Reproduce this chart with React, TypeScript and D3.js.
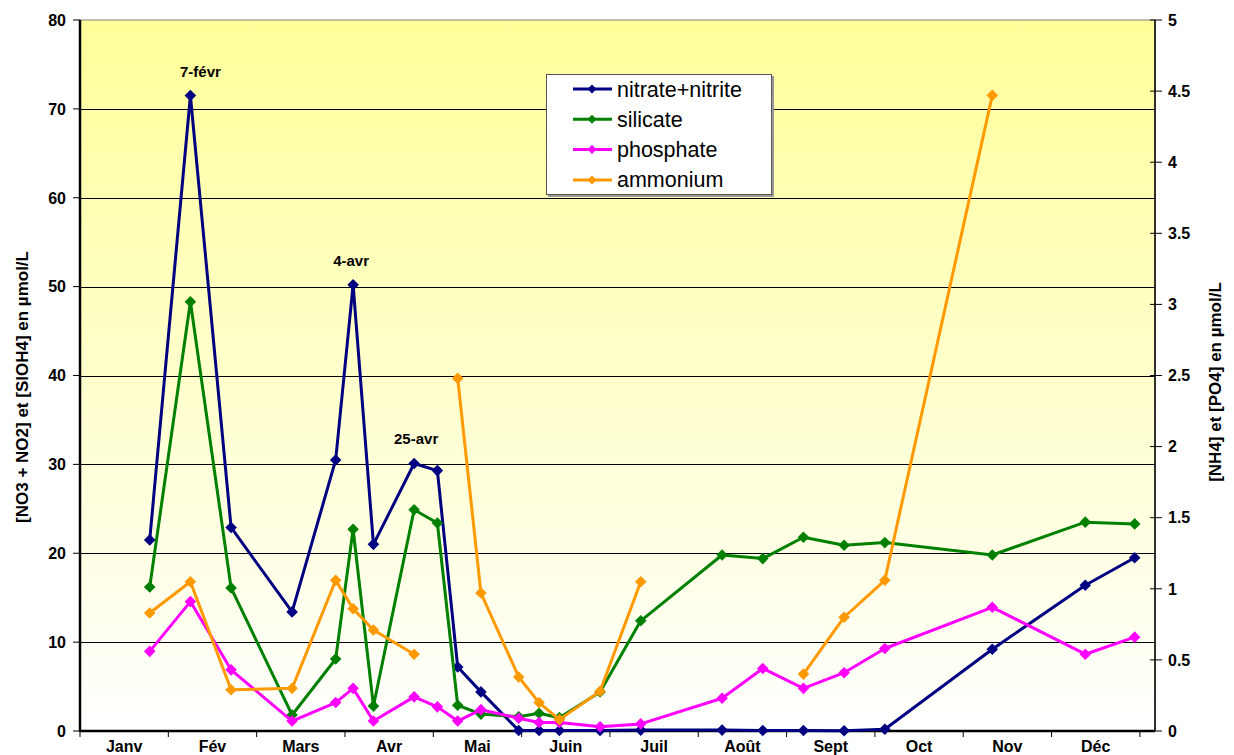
import React, { useEffect, useRef } from "react";
import * as d3 from "d3";

// sampling dates (one station, one year)
const sampleDates = [
  "2007-01-24", "2007-02-07", "2007-02-21", "2007-03-14", "2007-03-29",
  "2007-04-04", "2007-04-11", "2007-04-25", "2007-05-03", "2007-05-10",
  "2007-05-18", "2007-05-31", "2007-06-07", "2007-06-14", "2007-06-28",
  "2007-07-12", "2007-08-09", "2007-08-23", "2007-09-06", "2007-09-20",
  "2007-10-04", "2007-11-10", "2007-12-12", "2007-12-29",
];

// left axis (µmol/L)
const nitrate = [
  21.5, 71.5, 22.9, 13.4, 30.5, 50.2, 21.0, 30.1, 29.3, 7.2, 4.4, 0.05,
  0.05, 0.05, 0.05, 0.1, 0.1, 0.05, 0.05, 0.02, 0.2, 9.2, 16.4, 19.5,
];
const silicate = [
  16.2, 48.3, 16.1, 1.8, 8.1, 22.7, 2.8, 24.9, 23.4, 2.9, 1.9, 1.6, 2.0,
  1.5, 4.4, 12.4, 19.8, 19.4, 21.8, 20.9, 21.2, 19.8, 23.5, 23.3,
];
// right axis (µmol/L)
const phosphate = [
  0.56, 0.91, 0.43, 0.07, 0.2, 0.3, 0.07, 0.24, 0.17, 0.07, 0.15, 0.09,
  0.06, 0.06, 0.03, 0.05, 0.23, 0.44, 0.3, 0.41, 0.58, 0.87, 0.54, 0.66,
];
const ammonium: (number | null)[] = [
  0.83, 1.05, 0.29, 0.3, 1.06, 0.86, 0.71, 0.54, null, 2.48, 0.97, 0.38,
  0.2, 0.08, 0.28, 1.05, null, null, 0.4, 0.8, 1.06, 4.47, null, null,
];

const monthLabels = [
  "Janv", "Fév", "Mars", "Avr", "Mai", "Juin",
  "Juil", "Août", "Sept", "Oct", "Nov", "Déc",
];

const peakLabels = [
  { date: "2007-02-07", text: "7-févr" },
  { date: "2007-04-04", text: "4-avr" },
  { date: "2007-04-25", text: "25-avr" },
];

const seriesNames = ["nitrate+nitrite", "silicate", "phosphate", "ammonium"];
const seriesColors = ["#000080", "#008000", "#FF00FF", "#FF9900"];

const App: React.FC = () => {
  const svgRef = useRef<SVGSVGElement | null>(null);

  useEffect(() => {
    const width = 1234;
    const height = 755;
    const left = 80;
    const right = 1155;
    const top = 20;
    const bottom = 731;
    const font = "'Liberation Sans', Arial, sans-serif";

    const svg = d3.select(svgRef.current);
    svg.selectAll("*").remove();
    svg.attr("width", width).attr("height", height);

    const parse = d3.timeParse("%Y-%m-%d");
    const dayOfYear = (s: string) => {
      const d = parse(s) as Date;
      return d3.timeDay.count(d3.timeYear(d), d) + 1;
    };
    const monthDays = 30.4;

    const x = d3.scaleLinear().domain([0, 370]).range([left, right]);
    const yL = d3.scaleLinear().domain([0, 80]).range([bottom, top]);
    const yR = d3.scaleLinear().domain([0, 5]).range([bottom, top]);

    // background gradient
    const defs = svg.append("defs");
    const grad = defs
      .append("linearGradient")
      .attr("id", "bg")
      .attr("x1", 0)
      .attr("y1", 0)
      .attr("x2", 0)
      .attr("y2", 1);
    grad.append("stop").attr("offset", "0%").attr("stop-color", "#FFFF99");
    grad.append("stop").attr("offset", "100%").attr("stop-color", "#FFFFFF");

    svg
      .append("rect")
      .attr("width", width)
      .attr("height", height)
      .attr("fill", "#fff");

    svg
      .append("rect")
      .attr("x", left)
      .attr("y", top)
      .attr("width", right - left)
      .attr("height", bottom - top)
      .attr("fill", "url(#bg)")
      .attr("stroke", "#808080")
      .attr("stroke-width", 1);

    // gridlines
    svg
      .append("g")
      .selectAll("line")
      .data(yL.ticks(8).filter((t) => t > 0 && t < 80))
      .join("line")
      .attr("x1", left)
      .attr("x2", right)
      .attr("y1", (d) => Math.round(yL(d)) + 0.5)
      .attr("y2", (d) => Math.round(yL(d)) + 0.5)
      .attr("stroke", "#000")
      .attr("stroke-width", 1);

    // left axis
    const gl = svg.append("g");
    gl.append("line")
      .attr("x1", left)
      .attr("x2", left)
      .attr("y1", top)
      .attr("y2", bottom + 1)
      .attr("stroke", "#000")
      .attr("stroke-width", 2.5);
    gl.selectAll("line.t")
      .data(yL.ticks(8))
      .join("line")
      .attr("class", "t")
      .attr("x1", left - 7)
      .attr("x2", left)
      .attr("y1", (d) => yL(d))
      .attr("y2", (d) => yL(d))
      .attr("stroke", "#000")
      .attr("stroke-width", 1);
    gl.selectAll("text")
      .data(yL.ticks(8))
      .join("text")
      .attr("x", 66)
      .attr("y", (d) => yL(d))
      .attr("dy", "0.36em")
      .attr("text-anchor", "end")
      .attr("font-family", font)
      .attr("font-weight", "bold")
      .attr("font-size", 16)
      .text((d) => d);

    // right axis
    const gr = svg.append("g");
    gr.append("line")
      .attr("x1", right)
      .attr("x2", right)
      .attr("y1", top)
      .attr("y2", bottom)
      .attr("stroke", "#000")
      .attr("stroke-width", 1.5);
    gr.selectAll("line.t")
      .data(yR.ticks(10))
      .join("line")
      .attr("class", "t")
      .attr("x1", right - 5)
      .attr("x2", right + 7)
      .attr("y1", (d) => yR(d))
      .attr("y2", (d) => yR(d))
      .attr("stroke", "#000")
      .attr("stroke-width", 1);
    gr.selectAll("text")
      .data(yR.ticks(10))
      .join("text")
      .attr("x", 1168)
      .attr("y", (d) => yR(d))
      .attr("dy", "0.36em")
      .attr("font-family", font)
      .attr("font-weight", "bold")
      .attr("font-size", 16)
      .text((d) => d);

    // bottom axis
    const gb = svg.append("g");
    gb.append("line")
      .attr("x1", left)
      .attr("x2", right)
      .attr("y1", bottom)
      .attr("y2", bottom)
      .attr("stroke", "#000")
      .attr("stroke-width", 2.5);
    gb.selectAll("line.t")
      .data(d3.range(13))
      .join("line")
      .attr("class", "t")
      .attr("x1", (i) => x(i * monthDays))
      .attr("x2", (i) => x(i * monthDays))
      .attr("y1", bottom)
      .attr("y2", bottom + 6)
      .attr("stroke", "#000")
      .attr("stroke-width", 1);
    gb.selectAll("text")
      .data(monthLabels)
      .join("text")
      .attr("x", (_, i) => x((i + 0.5) * monthDays))
      .attr("y", 752)
      .attr("text-anchor", "middle")
      .attr("font-family", font)
      .attr("font-weight", "bold")
      .attr("font-size", 16)
      .text((d) => d);

    // axis titles
    svg
      .append("text")
      .attr("transform", "translate(22,387) rotate(-90)")
      .attr("text-anchor", "middle")
      .attr("dy", "0.35em")
      .attr("font-family", font)
      .attr("font-weight", "bold")
      .attr("font-size", 17)
      .text("[NO3 + NO2] et [SIOH4] en µmol/L");
    svg
      .append("text")
      .attr("transform", "translate(1215,382) rotate(-90)")
      .attr("text-anchor", "middle")
      .attr("dy", "0.35em")
      .attr("font-family", font)
      .attr("font-weight", "bold")
      .attr("font-size", 17)
      .text("[NH4] et [PO4] en µmol/L");

    // series
    const diamond = (cx: number, cy: number, r: number) =>
      `M${cx},${cy - r}L${cx + r},${cy}L${cx},${cy + r}L${cx - r},${cy}Z`;

    const allSeries = [
      { values: nitrate as (number | null)[], y: yL },
      { values: silicate as (number | null)[], y: yL },
      { values: phosphate as (number | null)[], y: yR },
      { values: ammonium, y: yR },
    ];

    allSeries.forEach((s, si) => {
      const pts = sampleDates.map((d, i) => ({
        day: dayOfYear(d),
        v: s.values[i],
      }));
      const line = d3
        .line<{ day: number; v: number | null }>()
        .defined((d) => d.v !== null)
        .x((d) => x(d.day))
        .y((d) => s.y(d.v as number));
      const g = svg.append("g");
      g.append("path")
        .attr("d", line(pts) as string)
        .attr("fill", "none")
        .attr("stroke", seriesColors[si])
        .attr("stroke-width", 3)
        .attr("stroke-linejoin", "round");
      g.selectAll("path.m")
        .data(pts.filter((p) => p.v !== null))
        .join("path")
        .attr("class", "m")
        .attr("d", (p) => diamond(x(p.day), s.y(p.v as number), 5.8))
        .attr("fill", seriesColors[si]);
    });

    // peak labels (nitrate)
    const labelDx = [10, -2, 2];
    svg
      .append("g")
      .selectAll("text")
      .data(peakLabels)
      .join("text")
      .attr("x", (d, i) => x(dayOfYear(d.date)) + labelDx[i])
      .attr(
        "y",
        (d) => yL(nitrate[sampleDates.indexOf(d.date)]) - 19,
      )
      .attr("text-anchor", "middle")
      .attr("font-family", font)
      .attr("font-weight", "bold")
      .attr("font-size", 15)
      .text((d) => d.text);

    // legend
    const lg = svg.append("g");
    lg.append("rect")
      .attr("x", 548)
      .attr("y", 76)
      .attr("width", 226)
      .attr("height", 121)
      .attr("fill", "#999");
    lg.append("rect")
      .attr("x", 546.5)
      .attr("y", 74.5)
      .attr("width", 225)
      .attr("height", 120)
      .attr("fill", "#fff")
      .attr("stroke", "#555")
      .attr("stroke-width", 1);
    seriesNames.forEach((name, i) => {
      const cy = 89 + i * 30.3;
      lg.append("line")
        .attr("x1", 573)
        .attr("x2", 612)
        .attr("y1", cy)
        .attr("y2", cy)
        .attr("stroke", seriesColors[i])
        .attr("stroke-width", 3);
      lg.append("path")
        .attr("d", diamond(592, cy, 4.5))
        .attr("fill", seriesColors[i]);
      lg.append("text")
        .attr("x", 617)
        .attr("y", cy)
        .attr("dy", "0.35em")
        .attr("font-family", font)
        .attr("font-size", 21.5)
        .text(name);
    });
  }, []);

  return (
    <div style={{ position: "absolute", left: 0, top: 0 }}>
      <svg ref={svgRef} style={{ display: "block" }}></svg>
    </div>
  );
};

export default App;
